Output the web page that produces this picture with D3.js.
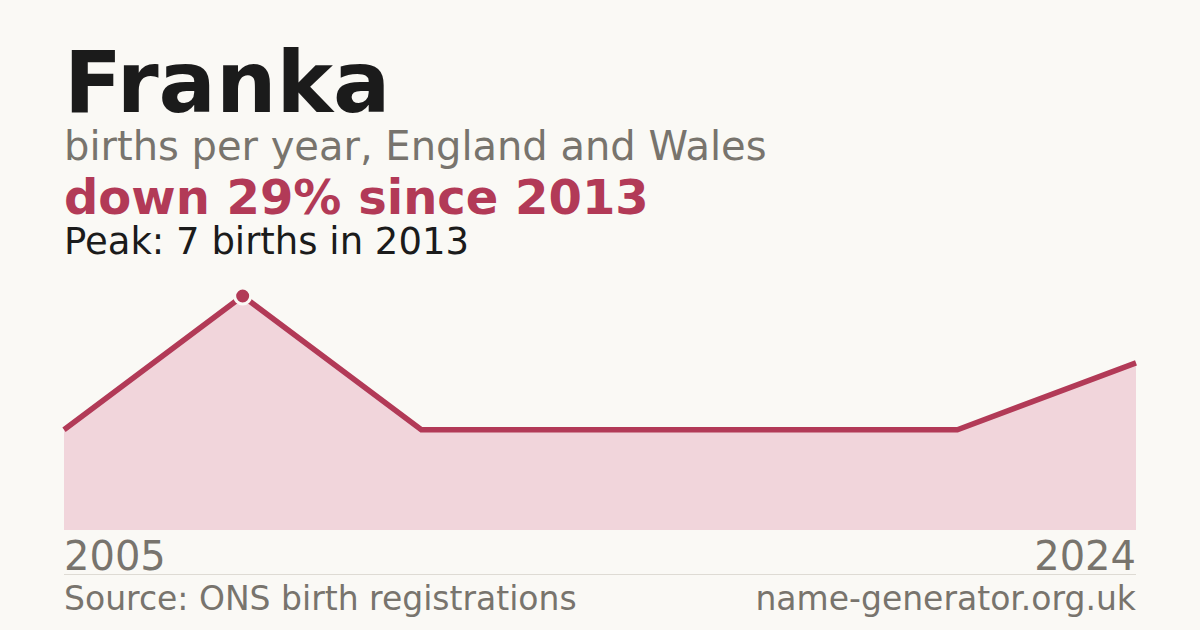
<!DOCTYPE html>
<meta charset="utf-8">
<style>
body { margin: 0; background: #faf9f5; }
svg { display: block; font-family: "DejaVu Sans", sans-serif; }
</style>
<body>
<script src="https://d3js.org/d3.v7.min.js"></script>
<script>

// years with at least 3 registrations (others suppressed)
var years = [2005, 2013, 2015, 2017, 2019, 2021, 2024];
var births = [3, 7, 3, 3, 3, 3, 5];
var firstLabel = "2005", lastLabel = "2024";

var W = 1200, H = 630;
var margin = {left: 64, right: 64};
var chartTop = 296, chartBottom = 530;

var svg = d3.select("body").append("svg")
    .attr("width", W)
    .attr("height", H);

svg.append("rect").attr("width", W).attr("height", H).attr("fill", "#faf9f5");

// headline block
svg.append("text").attr("x", 64).attr("y", 112)
    .attr("font-size", 85).attr("font-weight", "bold").attr("fill", "#1b1b1b")
    .text("Franka");
svg.append("text").attr("x", 64).attr("y", 160)
    .attr("font-size", 40).attr("fill", "#78746d")
    .text("births per year, England and Wales");
svg.append("text").attr("x", 64).attr("y", 214)
    .attr("font-size", 48).attr("font-weight", "bold").attr("fill", "#b23a57")
    .text("down 29% since 2013");
svg.append("text").attr("x", 64).attr("y", 254)
    .attr("font-size", 37).attr("fill", "#1b1b1b")
    .text("Peak: 7 births in 2013");

// scales - points are evenly spaced by index
var x = d3.scalePoint().domain(years).range([margin.left, W - margin.right]);
var y = d3.scaleLinear().domain([0, d3.max(births)]).range([chartBottom, chartTop]);

var data = years.map(function(d, i) { return {year: d, n: births[i]}; });

var area = d3.area()
    .x(function(d) { return x(d.year); })
    .y0(chartBottom)
    .y1(function(d) { return y(d.n); });
var line = d3.line()
    .x(function(d) { return x(d.year); })
    .y(function(d) { return y(d.n); });

svg.append("path").datum(data)
    .attr("d", area)
    .attr("fill", "#f1d5db");
svg.append("path").datum(data)
    .attr("d", line)
    .attr("fill", "none")
    .attr("stroke", "#b23a57")
    .attr("stroke-width", 5.5)
    .attr("stroke-linejoin", "miter");

// peak marker
var peak = data[d3.maxIndex(data, function(d) { return d.n; })];
svg.append("circle")
    .attr("cx", x(peak.year)).attr("cy", y(peak.n)).attr("r", 8)
    .attr("fill", "#b23a57")
    .attr("stroke", "#faf9f5").attr("stroke-width", 3);

// year labels
svg.append("text").attr("x", 64).attr("y", 570)
    .attr("font-size", 40).attr("fill", "#78746d")
    .text(firstLabel);
svg.append("text").attr("x", W - 64).attr("y", 570)
    .attr("font-size", 40).attr("fill", "#78746d").attr("text-anchor", "end")
    .text(lastLabel);

// footer
svg.append("line")
    .attr("x1", 64).attr("x2", W - 64).attr("y1", 574.5).attr("y2", 574.5)
    .attr("stroke", "#dedbd4").attr("stroke-width", 1);
svg.append("text").attr("x", 64).attr("y", 610)
    .attr("font-size", 33).attr("fill", "#78746d")
    .text("Source: ONS birth registrations");
svg.append("text").attr("x", W - 64).attr("y", 610)
    .attr("font-size", 33).attr("fill", "#78746d").attr("text-anchor", "end")
    .text("name-generator.org.uk");

</script>
</body>
